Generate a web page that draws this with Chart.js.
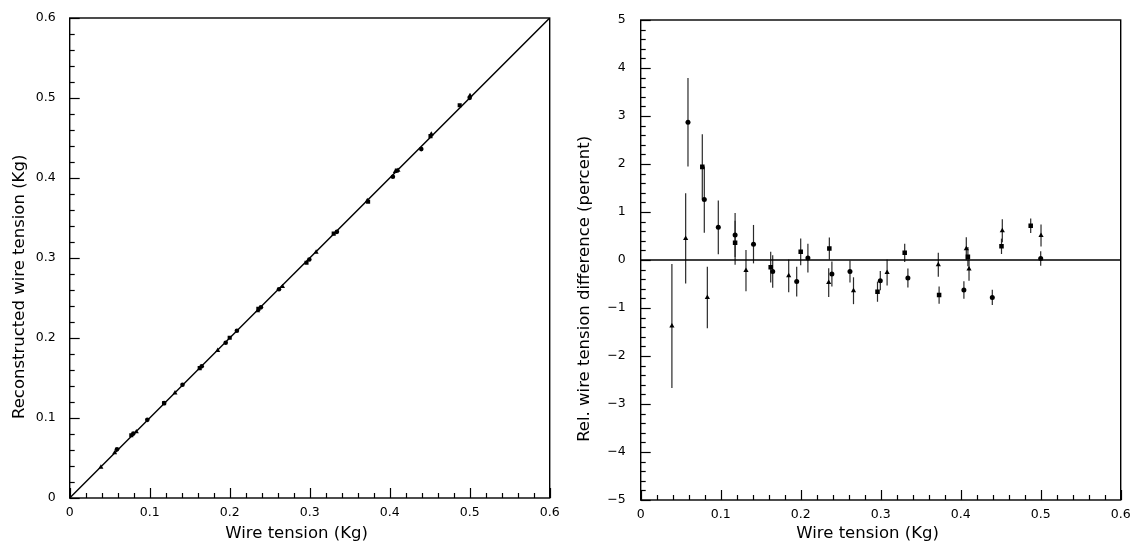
<!DOCTYPE html>
<html><head><meta charset="utf-8">
<script src="https://cdn.jsdelivr.net/npm/chart.js@4"></script>
<style>
html,body{margin:0;padding:0;background:#fff;width:1130px;height:542px;overflow:hidden}
.box{position:absolute;top:0;width:565px;height:542px}
</style></head><body>
<div class="box" style="left:0"><canvas id="c1"></canvas></div>
<div class="box" style="left:565px"><canvas id="c2"></canvas></div>
<script>
// ---- data ----
// circles
const circTension = [0.0591,0.0795,0.097,0.118,0.141,0.165,0.195,0.209,0.239,0.2616,0.2995,0.334,0.404,0.4395,0.5];
const circRecon   = [0.0608,0.0805,0.0977,0.1186,0.1415,0.1646,0.1941,0.2091,0.2383,0.2610,0.2982,0.3327,0.4015,0.4361,0.5002];
const circDiff    = [2.87,1.26,0.68,0.52,0.33,-0.24,-0.45,0.04,-0.29,-0.24,-0.43,-0.375,-0.625,-0.78,0.03];
const circErr     = [0.92,0.69,0.56,0.46,0.40,0.34,0.31,0.30,0.26,0.23,0.20,0.20,0.18,0.16,0.15];
// squares
const sqTension = [0.077,0.118,0.1625,0.2,0.2358,0.296,0.33,0.373,0.409,0.451,0.4875];
const sqRecon   = [0.0785,0.1184,0.1623,0.2003,0.2364,0.2940,0.3305,0.3703,0.4093,0.4523,0.4910];
const sqDiff    = [1.94,0.36,-0.15,0.17,0.24,-0.66,0.15,-0.73,0.07,0.285,0.715];
const sqErr     = [0.68,0.46,0.32,0.28,0.23,0.21,0.19,0.18,0.20,0.16,0.15];
// triangles
const triTension = [0.039,0.0562,0.0833,0.1316,0.185,0.235,0.266,0.308,0.372,0.407,0.4104,0.452,0.5004];
const triRecon   = [0.0385,0.0565,0.0827,0.1313,0.1844,0.2339,0.2643,0.3072,0.3716,0.4080,0.4096,0.4548,0.5030];
const triDiff    = [-1.375,0.45,-0.78,-0.22,-0.33,-0.47,-0.64,-0.26,-0.10,0.235,-0.19,0.61,0.51];
const triErr     = [1.29,0.94,0.64,0.43,0.34,0.30,0.28,0.27,0.25,0.24,0.24,0.24,0.23];
// reference lines
const diagX = [0, 0.6];
const diagY = [0, 0.6];
const zeroX = [0, 0.6];
const zeroY = [0, 0];
// tick labels
const tensionTicks = [0, 0.1, 0.2, 0.3, 0.4, 0.5, 0.6];
const percentTicks = [-5, -4, -3, -2, -1, 0, 1, 2, 3, 4, 5];
// axis titles
const xTitle = 'Wire tension (Kg)';
const leftYTitle = 'Reconstructed wire tension (Kg)';
const rightYTitle = 'Rel. wire tension difference (percent)';

const FONT = "'DejaVu Sans', 'Liberation Sans', sans-serif";
const pts = (xs, ys) => xs.map((x, i) => ({x, y: ys[i]}));
const pad = n => '\u00A0'.repeat(n);

const framePlugin = {
  id: 'frame',
  afterDraw(chart, args, o) {
    const {ctx, chartArea: a, scales: {x, y}} = chart;
    ctx.save();
    ctx.strokeStyle = '#000';
    ctx.lineWidth = 1.4;
    ctx.strokeRect(a.left, a.top, a.right - a.left, a.bottom - a.top);
    ctx.lineWidth = 1.2;
    const nx = Math.round((x.max - x.min) / o.xMinor);
    for (let i = 0; i <= nx; i++) {
      const v = x.min + i * o.xMinor;
      const q = v / o.xMajor;
      const major = Math.abs(q - Math.round(q)) < 1e-6;
      const px = Math.round(x.getPixelForValue(v)) + 0.5;
      ctx.beginPath(); ctx.moveTo(px, a.bottom); ctx.lineTo(px, a.bottom - (major ? 10 : 5)); ctx.stroke();
    }
    const ny = Math.round((y.max - y.min) / o.yMinor);
    for (let i = 0; i <= ny; i++) {
      const v = y.min + i * o.yMinor;
      const q = v / o.yMajor;
      const major = Math.abs(q - Math.round(q)) < 1e-6;
      const py = Math.round(y.getPixelForValue(v)) + 0.5;
      ctx.beginPath(); ctx.moveTo(a.left, py); ctx.lineTo(a.left + (major ? 10 : 5), py); ctx.stroke();
    }
    ctx.restore();
  }
};

const errPlugin = {
  id: 'errbars',
  beforeDatasetsDraw(chart) {
    const {ctx, scales: {x, y}} = chart;
    ctx.save();
    ctx.strokeStyle = '#2a2a2a';
    ctx.lineWidth = 1.2;
    chart.data.datasets.forEach(ds => {
      if (!ds.errors) return;
      ds.data.forEach((p, i) => {
        const e = ds.errors[i];
        const px = x.getPixelForValue(p.x);
        ctx.beginPath();
        ctx.moveTo(px, y.getPixelForValue(p.y - e));
        ctx.lineTo(px, y.getPixelForValue(p.y + e));
        ctx.stroke();
      });
    });
    ctx.restore();
  }
};

function noPad(s) { s.paddingLeft = 0; s.paddingRight = 0; s.paddingTop = 0; s.paddingBottom = 0; }
function fixedWidth(w) { return s => { s.width = w; noPad(s); }; }
function fixedHeight(h) { return s => { s.height = h; noPad(s); }; }

function axisX(h) {
  return {
    type: 'linear', min: 0, max: 0.6,
    afterFit: fixedHeight(h),
    afterBuildTicks: s => { s.ticks = tensionTicks.map(v => ({value: v})); },
    grid: {display: false, drawTicks: false}, border: {display: false},
    ticks: {padding: 7, color: '#000', font: {family: FONT, size: 12.5},
      callback: v => v === 0 ? '0' : v.toFixed(1)},
    title: {display: true, text: xTitle + pad(5), color: '#000',
      font: {family: FONT, size: 16.5, lineHeight: 1}, padding: {top: 0, bottom: 0}}
  };
}

function axisY(w, min, max, ticks, fmt, title, tp) {
  return {
    type: 'linear', min, max,
    afterFit: fixedWidth(w),
    afterBuildTicks: s => { s.ticks = ticks.map(v => ({value: v})); },
    grid: {display: false, drawTicks: false}, border: {display: false},
    ticks: {padding: tp, color: '#000', font: {family: FONT, size: 12.5}, callback: fmt},
    title: {display: true, text: title + pad(11), color: '#000',
      font: {family: FONT, size: 16.5, lineHeight: 1}, padding: {top: 11, bottom: 0}}
  };
}

const markerStyle = (style, r) => ({pointStyle: style, pointRadius: r, backgroundColor: '#000', borderColor: '#000', borderWidth: 0});

new Chart(document.getElementById('c1'), {
  type: 'scatter',
  data: {
    datasets: [
      {data: pts(diagX, diagY), showLine: true, borderColor: '#000', borderWidth: 1.4, pointRadius: 0},
      {data: pts(circTension, circRecon), ...markerStyle('circle', 2.3)},
      {data: pts(sqTension, sqRecon), ...markerStyle('rect', 2.9)},
      {data: pts(triTension, triRecon), ...markerStyle('triangle', 2.9)}
    ]
  },
  options: {
    responsive: true, maintainAspectRatio: false, animation: false,
    layout: {padding: {left: 0, top: 18, right: 15.3, bottom: 0}},
    plugins: {legend: {display: false}, tooltip: {enabled: false}, frame: {xMinor: 0.02, xMajor: 0.1, yMinor: 0.02, yMajor: 0.1}},
    scales: {
      x: axisX(44),
      y: axisY(69.7, 0, 0.6, tensionTicks, v => v === 0 ? '0' : v.toFixed(1), leftYTitle, 14)
    }
  },
  plugins: [framePlugin]
});

new Chart(document.getElementById('c2'), {
  type: 'scatter',
  data: {
    datasets: [
      {data: pts(zeroX, zeroY), showLine: true, borderColor: '#000', borderWidth: 1.4, pointRadius: 0},
      {data: pts(circTension, circDiff), errors: circErr, ...markerStyle('circle', 2.5)},
      {data: pts(sqTension, sqDiff), errors: sqErr, ...markerStyle('rect', 3.2)},
      {data: pts(triTension, triDiff), errors: triErr, ...markerStyle('triangle', 3.0)}
    ]
  },
  options: {
    responsive: true, maintainAspectRatio: false, animation: false,
    layout: {padding: {left: 0, top: 20, right: 9.3, bottom: 0}},
    plugins: {legend: {display: false}, tooltip: {enabled: false}, frame: {xMinor: 0.02, xMajor: 0.1, yMinor: 0.2, yMajor: 1}},
    scales: {
      x: axisX(42),
      y: axisY(75.7, -5, 5, percentTicks, v => v < 0 ? '\u2212' + Math.abs(v) : String(v), rightYTitle, 15)
    }
  },
  plugins: [framePlugin, errPlugin]
});
</script>
</body></html>
